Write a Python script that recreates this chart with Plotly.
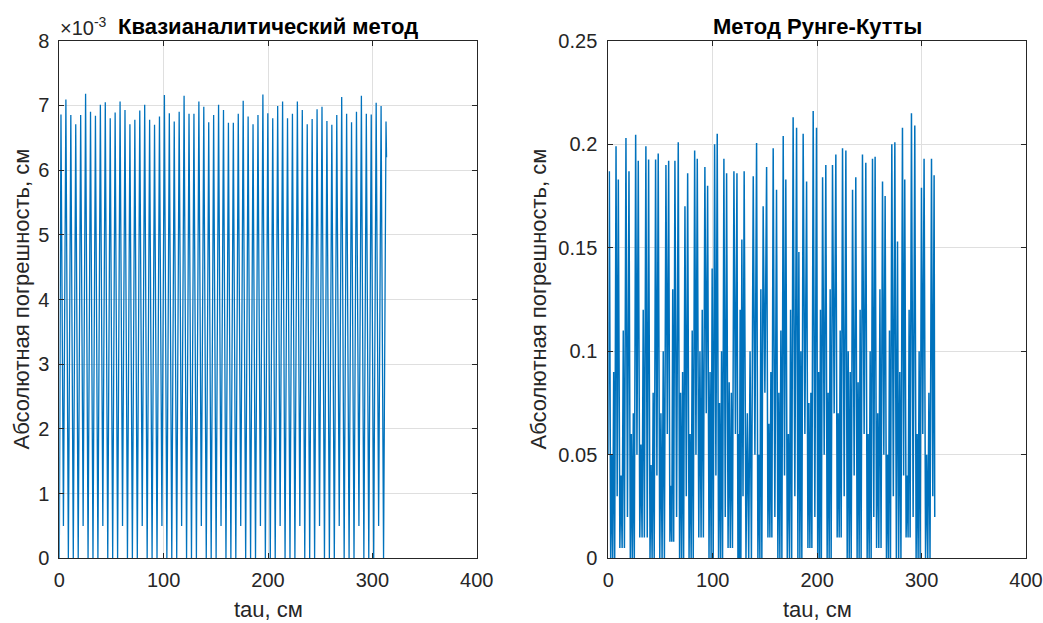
import plotly.graph_objects as go

# ---------------- data ----------------
# Left panel: quasi-analytical method, absolute error in units of 1e-3 cm
left_peaks_e3 = [6.86, 7.09, 6.85, 6.71, 6.85, 7.18, 6.90, 6.84, 7.01, 7.05, 6.80, 6.89,
                 7.06, 6.93, 6.71, 6.78, 6.92, 7.01, 6.78, 6.70, 6.83, 7.16, 6.88, 6.75,
                 6.90, 7.15, 6.87, 6.87, 7.06, 6.98, 6.74, 6.85, 7.01, 6.93, 6.73,
                 6.73, 6.87, 7.07, 6.83, 6.71, 6.85, 7.17, 6.88, 6.80, 6.99, 7.06, 6.80,
                 6.87, 7.06, 6.93, 6.71, 6.79, 6.94, 6.98, 6.76, 6.70, 6.85, 7.13, 6.87,
                 6.74, 6.90, 7.15, 6.87, 6.86, 7.04, 6.99, 6.75]
left_troughs_e3 = [0.5, 0, 0, 0, 0.5, 0, 0, 0, 0.5, 0, 0, 0, 0.5, 0, 0, 0, 0.5, 0, 0, 0,
                   0.5, 0, 0, 0, 0.5, 0, 0, 0, 0.5, 0, 0, 0, 0.5, 0, 0, 0, 0.5, 0, 0, 0,
                   0.5, 0, 0, 0, 0.5, 0, 0, 0, 0.5, 0, 0, 0, 0.5, 0, 0, 0, 0.5, 0, 0, 0,
                   0.5, 0, 0, 0, 0.5, 0]
left_start_e3 = 0.0
left_end_e3 = 6.2
left_tau_first_peak = 1.6
left_tau_last_peak = 313.1
left_tau_end = 313.6

# Right panel: Runge-Kutta method, absolute error in cm
right_first = (1.0, 0.187)
right_start = (0.0, 0.05)
right_end = (312.6, 0.02)
right_tau_A = [7.4, 16.9, 26.2, 36.0, 45.3, 55.2, 63.8, 73.4, 82.7, 92.5, 101.8, 110.7,
               120.3, 127.9, 138.8, 148.3, 157.9, 167.5, 177.0, 186.6, 196.2, 205.2,
               214.7, 224.3, 233.9, 243.4, 253.0, 262.6, 271.5, 281.7, 290.3, 299.9, 309.5]
right_tau_B = [9.6, 19.8, 28.7, 38.6, 47.8, 57.8, 67.0, 76.0, 85.2, 95.1, 104.3, 113.3,
               123.2, 130.1, 142.0, 151.6, 161.1, 170.0, 180.3, 189.9, 199.4, 208.3,
               217.9, 227.5, 237.0, 246.6, 255.5, 265.1, 274.4, 283.9, 293.5, 302.4, 312.0]
right_A = [0.199, 0.203, 0.2046, 0.199, 0.1926, 0.190, 0.192, 0.170, 0.197, 0.189, 0.200,
           0.193, 0.187, 0.154, 0.1845, 0.170, 0.198, 0.204, 0.213, 0.205, 0.216, 0.184,
           0.190, 0.198, 0.178, 0.195, 0.193, 0.182, 0.200, 0.208, 0.215, 0.179, 0.193]
right_B = [0.183, 0.187, 0.192, 0.1926, 0.1955, 0.192, 0.201, 0.186, 0.193, 0.180, 0.205,
           0.186, 0.186, 0.187, 0.2006, 0.189, 0.178, 0.183, 0.208, 0.182, 0.208, 0.190,
           0.195, 0.197, 0.184, 0.191, 0.194, 0.175, 0.201, 0.183, 0.209, 0.193, 0.185]
# dip between the two peaks of a pair
right_mid = [0.03, 0.02, 0.05, 0.01, 0.04, 0.06, 0.02, 0.03, 0.05, 0.07, 0.04, 0.02,
             0.06, 0.03, 0.05, 0.08, 0.02, 0.04, 0.03, 0.06, 0.02, 0.05, 0.07, 0.03,
             0.04, 0.06, 0.02, 0.05, 0.03, 0.04, 0.02, 0.06, 0.03]
# small bumps between pairs (gap before each pair)
right_C1 = [0.05, 0.04, 0.06, 0.055, 0.045, 0.07, 0.035, 0.08, 0.06, 0.10, 0.09, 0.075,
            0.085, 0.06, 0.07, 0.05, 0.065, 0.08, 0.06, 0.148, 0.075, 0.09, 0.08, 0.07,
            0.10, 0.085, 0.06, 0.07, 0.05, 0.153, 0.04, 0.06, 0.05]
right_C2 = [0.09, 0.11, 0.07, 0.12, 0.08, 0.10, 0.13, 0.09, 0.11, 0.12, 0.14, 0.10,
            0.08, 0.12, 0.10, 0.13, 0.09, 0.11, 0.12, 0.10, 0.08, 0.12, 0.13, 0.11,
            0.09, 0.12, 0.10, 0.13, 0.11, 0.09, 0.12, 0.10, 0.08]
right_gap_low = [0.0, 0.005, 0.0, 0.01, 0.0, 0.0, 0.008, 0.0, 0.0, 0.01, 0.0, 0.0,
                 0.005, 0.0, 0.0, 0.0, 0.01, 0.0, 0.0, 0.0, 0.005, 0.0, 0.0, 0.01,
                 0.0, 0.0, 0.0, 0.005, 0.0, 0.0, 0.01, 0.0, 0.0]

x_ticks = [0, 100, 200, 300, 400]
left_yticks_e3 = [0, 1, 2, 3, 4, 5, 6, 7, 8]
right_yticks = [0, 0.05, 0.1, 0.15, 0.2, 0.25]
right_yticktext = ["0", "0.05", "0.1", "0.15", "0.2", "0.25"]

title_left = "Квазианалитический метод"
title_right = "Метод Рунге-Кутты"
ylabel = "Абсолютная погрешность, см"
xlabel = "tau, см"

# ---------------- build series ----------------
n = len(left_peaks_e3)
step = (left_tau_last_peak - left_tau_first_peak) / (n - 1)
lx, ly = [0.0], [left_start_e3 * 1e-3]
for i, p in enumerate(left_peaks_e3):
    tp = left_tau_first_peak + i * step
    lx.append(tp); ly.append(p * 1e-3)
    if i < len(left_troughs_e3):
        lx.append(tp + step / 2); ly.append(left_troughs_e3[i] * 1e-3)
lx.append(left_tau_end); ly.append(left_end_e3 * 1e-3)

rx, ry = [right_start[0], right_first[0]], [right_start[1], right_first[1]]
prev_tau = right_first[0]
for i in range(len(right_A)):
    ta, tb = right_tau_A[i], right_tau_B[i]
    g = ta - prev_tau
    z = right_gap_low[i]
    rx += [prev_tau + g * f for f in (0.2, 0.35, 0.5, 0.65, 0.8)]
    ry += [z, right_C1[i], z, right_C2[i], z]
    rx += [ta, (ta + tb) / 2, tb]
    ry += [right_A[i], right_mid[i], right_B[i]]
    prev_tau = tb
rx.append(right_end[0]); ry.append(right_end[1])

# ---------------- figure ----------------
W, H = 1043, 623
FONT = "Liberation Sans, Arial, Helvetica, sans-serif"
INK = "#262626"
BLUE = "#0072BD"

left_dom = [59.3 / W, 476.7 / W]
right_dom = [608.3 / W, 1026.0 / W]
y_dom = [1 - 558.3 / H, 1 - 40.7 / H]

fig = go.Figure()
fig.add_trace(go.Scatter(x=lx, y=ly, mode="lines", line=dict(color=BLUE, width=1.3),
                         xaxis="x", yaxis="y", hoverinfo="skip"))
fig.add_trace(go.Scatter(x=rx, y=ry, mode="lines", line=dict(color=BLUE, width=1.5),
                         xaxis="x2", yaxis="y2", hoverinfo="skip"))

common = dict(showline=True, linecolor=INK, linewidth=1, mirror="ticks",
              ticks="inside", ticklen=5, tickcolor=INK, tickwidth=1,
              showgrid=True, gridcolor="#DFDFDF", gridwidth=1, zeroline=False,
              automargin=False,
              tickfont=dict(family=FONT, size=20, color=INK))

fig.update_layout(
    width=W, height=H, margin=dict(l=0, r=0, t=0, b=0, autoexpand=False), autosize=False,
    paper_bgcolor="white", plot_bgcolor="white", showlegend=False,
    xaxis=dict(domain=left_dom, range=[0, 400], tickvals=x_ticks, anchor="y",
               ticklabelstandoff=4, **common),
    yaxis=dict(domain=y_dom, range=[0, 0.008], anchor="x",
               tickvals=[v * 1e-3 for v in left_yticks_e3],
               ticktext=[str(v) for v in left_yticks_e3], ticklabelstandoff=5, **common),
    xaxis2=dict(domain=right_dom, range=[0, 400], tickvals=x_ticks, anchor="y2",
                ticklabelstandoff=4, **common),
    yaxis2=dict(domain=y_dom, range=[0, 0.25], anchor="x2", tickvals=right_yticks,
                ticktext=right_yticktext, ticklabelstandoff=6, **common),
)

ann = []
ttl_font = dict(family=FONT, size=22, color="black")
ann.append(dict(text="<b>" + title_left + "</b>", x=(left_dom[0] + left_dom[1]) / 2,
                y=1 - 26 / H, xref="paper", yref="paper", showarrow=False,
                xanchor="center", yanchor="middle", font=ttl_font))
ann.append(dict(text="<b>" + title_right + "</b>", x=(right_dom[0] + right_dom[1]) / 2,
                y=1 - 26 / H, xref="paper", yref="paper", showarrow=False,
                xanchor="center", yanchor="middle", font=ttl_font))
ann.append(dict(text="×10<sup>-3</sup>", x=58 / W, y=1 - 26 / H, xref="paper", yref="paper",
                showarrow=False, xanchor="left", yanchor="middle",
                font=dict(family=FONT, size=20, color=INK)))
lab_font = dict(family=FONT, size=22, color=INK)
for dom, yx in ((left_dom, 21), (right_dom, 538)):
    ann.append(dict(text=xlabel, x=(dom[0] + dom[1]) / 2, y=1 - 609 / H, xref="paper",
                    yref="paper", showarrow=False, xanchor="center", yanchor="middle",
                    font=lab_font))
    ann.append(dict(text=ylabel, x=yx / W, y=(y_dom[0] + y_dom[1]) / 2, xref="paper",
                    yref="paper", showarrow=False, xanchor="center", yanchor="middle",
                    textangle=-90, font=lab_font))
fig.update_layout(annotations=ann)

fig.write_html("out.html")
